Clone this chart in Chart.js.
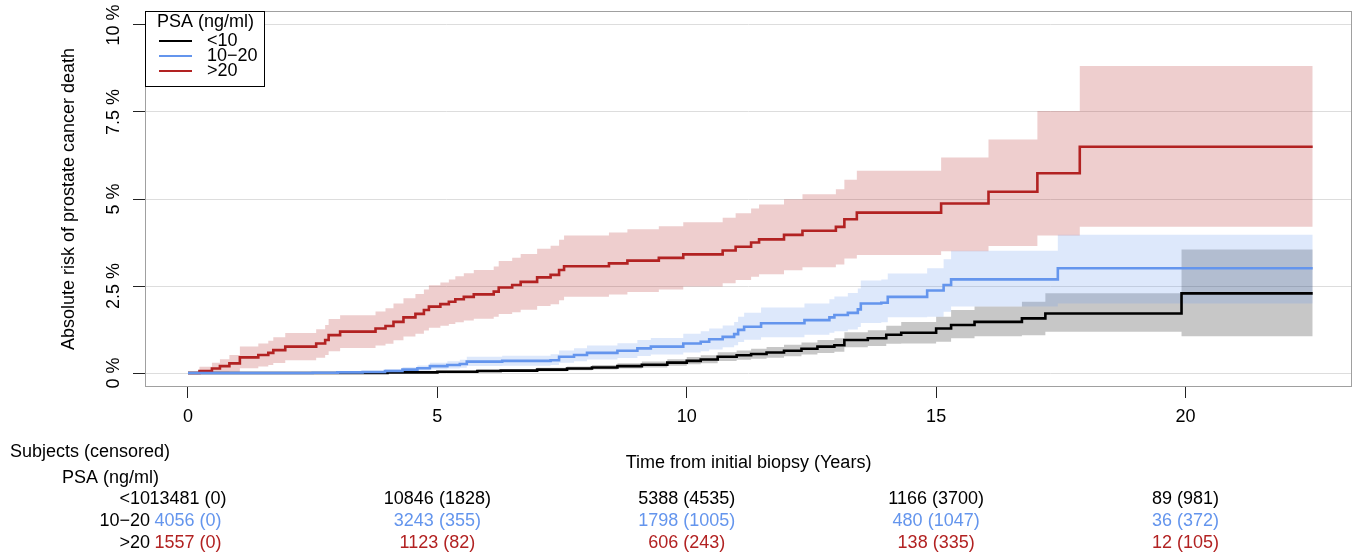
<!DOCTYPE html>
<html><head><meta charset="utf-8">
<script src="https://cdn.jsdelivr.net/npm/chart.js@4.4.1/dist/chart.umd.min.js"></script>
<style>html,body{margin:0;padding:0;background:#fff;}canvas{display:block;}</style>
</head><body>
<canvas id="c" width="1362" height="560"></canvas>
<script>
// ---------- data ----------
const groupLabels = ['<10', '10\u221220', '>20'];
const xTicks = [0, 5, 10, 15, 20];
const yTicks = [0, 2.5, 5, 7.5, 10];
const yTickLabels = ['0 %', '2.5 %', '5 %', '7.5 %', '10 %'];

// PSA < 10
const t_lt10  = [0, 3.0, 4.0, 5.0, 5.8, 6.27, 7.0, 7.6, 8.1, 8.61, 9.1, 9.61, 10.0, 10.28, 10.62, 11.0, 11.29, 11.6, 11.95, 12.3, 12.62, 12.96, 13.16, 13.63, 14.0, 14.3, 15.0, 15.3, 15.77, 16.72, 17.19, 19.92, 22.55];
const v_lt10  = [0, 0.005, 0.02, 0.04, 0.06, 0.07, 0.1, 0.13, 0.16, 0.2, 0.24, 0.3, 0.35, 0.39, 0.47, 0.51, 0.55, 0.59, 0.64, 0.7, 0.76, 0.8, 0.95, 1.0, 1.1, 1.16, 1.28, 1.38, 1.47, 1.57, 1.71, 2.29, 2.29];
const up_lt10 = [0, 0.015, 0.04, 0.07, 0.1, 0.11, 0.15, 0.19, 0.23, 0.28, 0.33, 0.4, 0.46, 0.51, 0.6, 0.65, 0.7, 0.75, 0.81, 0.88, 0.95, 1.0, 1.17, 1.23, 1.36, 1.47, 1.62, 1.81, 1.91, 2.05, 2.29, 3.55, 3.55];
const lo_lt10 = [0, 0, 0.005, 0.015, 0.025, 0.035, 0.055, 0.08, 0.1, 0.13, 0.16, 0.21, 0.25, 0.28, 0.35, 0.38, 0.41, 0.44, 0.48, 0.53, 0.58, 0.61, 0.74, 0.78, 0.84, 0.85, 0.9, 1.0, 1.06, 1.09, 1.19, 1.06, 1.06];

// PSA 10-20
const t_1020  = [0, 2.5, 3.0, 3.5, 3.95, 4.3, 4.6, 4.85, 5.2, 5.45, 5.59, 6.3, 7.27, 7.44, 7.74, 8.0, 8.61, 9.01, 9.28, 9.93, 10.28, 10.45, 10.72, 10.95, 11.03, 11.15, 11.49, 12.36, 12.86, 12.96, 13.23, 13.43, 13.49, 13.9, 14.03, 14.82, 15.15, 15.3, 17.44, 22.55];
const v_1020  = [0, 0.01, 0.02, 0.03, 0.06, 0.1, 0.14, 0.2, 0.23, 0.26, 0.33, 0.35, 0.37, 0.47, 0.52, 0.58, 0.64, 0.71, 0.76, 0.85, 0.9, 0.97, 1.04, 1.12, 1.24, 1.33, 1.43, 1.52, 1.6, 1.67, 1.73, 1.83, 2.0, 2.02, 2.19, 2.37, 2.53, 2.69, 3.01, 3.01];
const up_1020 = [0, 0.03, 0.05, 0.07, 0.12, 0.17, 0.22, 0.3, 0.34, 0.38, 0.47, 0.5, 0.54, 0.65, 0.71, 0.79, 0.86, 0.95, 1.01, 1.13, 1.2, 1.28, 1.37, 1.47, 1.62, 1.73, 1.88, 2.0, 2.12, 2.2, 2.3, 2.43, 2.66, 2.69, 2.86, 3.01, 3.27, 3.51, 3.97, 3.97];
const lo_1020 = [0, 0, 0, 0, 0.01, 0.04, 0.07, 0.11, 0.13, 0.15, 0.2, 0.21, 0.23, 0.3, 0.34, 0.39, 0.43, 0.49, 0.53, 0.59, 0.63, 0.68, 0.74, 0.8, 0.89, 0.96, 1.03, 1.1, 1.16, 1.2, 1.25, 1.32, 1.44, 1.46, 1.6, 1.62, 1.76, 1.91, 2.0, 2.0];

// PSA > 20
const t_gt20  = [0, 0.23, 0.48, 0.64, 0.83, 1.04, 1.41, 1.61, 1.71, 1.95, 2.57, 2.75, 2.82, 3.05, 3.76, 3.96, 4.12, 4.32, 4.56, 4.73, 4.83, 5.06, 5.23, 5.36, 5.53, 5.73, 6.13, 6.23, 6.5, 6.67, 7.0, 7.27, 7.44, 7.54, 8.44, 8.81, 9.44, 9.93, 10.72, 10.98, 11.29, 11.45, 11.95, 12.32, 12.99, 13.16, 13.41, 15.1, 16.05, 17.03, 17.88, 22.55];
const v_gt20  = [0, 0.06, 0.13, 0.2, 0.28, 0.45, 0.52, 0.58, 0.66, 0.76, 0.85, 0.95, 1.09, 1.19, 1.28, 1.35, 1.47, 1.6, 1.7, 1.81, 1.91, 1.98, 2.05, 2.12, 2.19, 2.26, 2.34, 2.46, 2.53, 2.62, 2.75, 2.82, 2.96, 3.07, 3.15, 3.23, 3.31, 3.41, 3.52, 3.63, 3.75, 3.84, 3.97, 4.09, 4.2, 4.42, 4.61, 4.87, 5.21, 5.74, 6.5, 6.5];
const up_gt20 = [0, 0.18, 0.3, 0.4, 0.52, 0.76, 0.85, 0.93, 1.03, 1.15, 1.26, 1.38, 1.55, 1.66, 1.77, 1.86, 2.0, 2.15, 2.27, 2.4, 2.52, 2.6, 2.69, 2.78, 2.87, 2.96, 3.06, 3.22, 3.31, 3.42, 3.57, 3.66, 3.83, 3.95, 4.04, 4.13, 4.22, 4.33, 4.46, 4.59, 4.73, 4.84, 4.99, 5.14, 5.28, 5.55, 5.81, 6.19, 6.71, 7.53, 8.82, 8.82];
const lo_gt20 = [0, 0, 0, 0, 0.04, 0.14, 0.19, 0.23, 0.29, 0.37, 0.44, 0.52, 0.63, 0.72, 0.79, 0.84, 0.94, 1.05, 1.13, 1.22, 1.3, 1.36, 1.41, 1.46, 1.51, 1.56, 1.62, 1.7, 1.75, 1.82, 1.93, 1.98, 2.09, 2.19, 2.26, 2.33, 2.4, 2.49, 2.58, 2.67, 2.77, 2.84, 2.95, 3.04, 3.12, 3.29, 3.39, 3.5, 3.65, 3.95, 4.2, 4.2];

// numbers at risk (censored) at xTicks
const atRisk_lt10   = [13481, 10846, 5388, 1166, 89];
const censor_lt10   = [0, 1828, 4535, 3700, 981];
const atRisk_1020   = [4056, 3243, 1798, 480, 36];
const censor_1020   = [0, 355, 1005, 1047, 372];
const atRisk_gt20   = [1557, 1123, 606, 138, 12];
const censor_gt20   = [0, 82, 243, 335, 105];

// ---------- styling ----------
const FONT = "'Liberation Sans', Arial, Helvetica, sans-serif";
const BLACK = '#000000', BLUE = '#6495ED', RED = '#B22222';
const lineColors = [BLACK, BLUE, RED];

function pts(ts, vs) { return ts.map((t, i) => ({ x: t, y: vs[i] })); }
function lineDs(label, ts, vs, color, order) {
  return { label, data: pts(ts, vs), borderColor: color, borderWidth: 2.6, stepped: 'before',
           fill: false, pointRadius: 0, order };
}
function bandDs(label, ts, vs, bg, order, fill) {
  return { label, data: pts(ts, vs), borderColor: 'transparent', borderWidth: 0, backgroundColor: bg,
           stepped: 'before', fill: fill, pointRadius: 0, order };
}

const datasets = [
  lineDs(groupLabels[1], t_1020, v_1020, BLUE, 1),
  lineDs(groupLabels[2], t_gt20, v_gt20, RED, 2),
  lineDs(groupLabels[0], t_lt10, v_lt10, BLACK, 3),
  bandDs('>20 upper', t_gt20, up_gt20, 'rgba(178,34,34,0.22)', 10, '+1'),
  bandDs('>20 lower', t_gt20, lo_gt20, 'transparent', 10, false),
  bandDs('10-20 upper', t_1020, up_1020, 'rgba(100,149,237,0.22)', 11, '+1'),
  bandDs('10-20 lower', t_1020, lo_1020, 'transparent', 11, false),
  bandDs('<10 upper', t_lt10, up_lt10, 'rgba(0,0,0,0.22)', 12, '+1'),
  bandDs('<10 lower', t_lt10, lo_lt10, 'transparent', 12, false)
];

const decor = {
  id: 'decor',
  afterDraw(chart) {
    const ctx = chart.ctx, a = chart.chartArea, xs = chart.scales.x, ys = chart.scales.y;
    ctx.save();
    // plot box
    ctx.strokeStyle = '#a0a0a0'; ctx.lineWidth = 1;
    ctx.strokeRect(a.left + 0.5, a.top + 0.5, a.right - a.left - 1, a.bottom - a.top - 1);
    // y tick labels (rotated as in the original)
    ctx.fillStyle = '#000'; ctx.font = '18px ' + FONT;
    ctx.textAlign = 'center'; ctx.textBaseline = 'middle';
    yTicks.forEach((v, i) => {
      ctx.save();
      ctx.translate(114, ys.getPixelForValue(v));
      ctx.rotate(-Math.PI / 2);
      ctx.fillText(yTickLabels[i], 0, 0);
      ctx.restore();
    });
    // legend
    const lx = a.left, ly = a.top, lw = 119, lh = 75;
    ctx.fillStyle = '#fff'; ctx.fillRect(lx, ly, lw, lh);
    ctx.strokeStyle = '#000'; ctx.lineWidth = 1;
    ctx.strokeRect(lx + 0.5, ly + 0.5, lw, lh);
    ctx.fillStyle = '#000'; ctx.textAlign = 'left';
    ctx.fillText('PSA (ng/ml)', lx + 12, ly + 11);
    groupLabels.forEach((g, i) => {
      const yy = ly + 30 + i * 15;
      ctx.strokeStyle = lineColors[i]; ctx.lineWidth = 2;
      ctx.beginPath(); ctx.moveTo(lx + 14, yy); ctx.lineTo(lx + 47, yy); ctx.stroke();
      ctx.fillStyle = '#000';
      ctx.fillText(g, lx + 62, yy);
    });
    // risk table
    ctx.fillStyle = '#000'; ctx.textAlign = 'left';
    ctx.fillText('Subjects (censored)', 10, 452);
    ctx.fillText('PSA (ng/ml)', 62, 478);
    const rows = [[atRisk_lt10, censor_lt10], [atRisk_1020, censor_1020], [atRisk_gt20, censor_gt20]];
    rows.forEach((r, i) => {
      const yy = 499 + i * 22;
      ctx.fillStyle = '#000'; ctx.textAlign = 'right';
      ctx.fillText(groupLabels[i], 150, yy);
      ctx.fillStyle = lineColors[i]; ctx.textAlign = 'center';
      xTicks.forEach((t, j) => {
        ctx.fillText(r[0][j] + ' (' + r[1][j] + ')', xs.getPixelForValue(t), yy);
      });
    });
    ctx.restore();
  }
};

new Chart(document.getElementById('c'), {
  type: 'line',
  data: { datasets },
  options: {
    responsive: false, animation: false, devicePixelRatio: 1,
    layout: { padding: { top: 11, right: 10, left: 0, bottom: 0 } },
    plugins: { legend: { display: false }, tooltip: { enabled: false } },
    elements: { point: { radius: 0 }, line: { tension: 0 } },
    scales: {
      x: {
        type: 'linear', position: 'bottom', min: -0.862, max: 23.338,
        afterBuildTicks: s => { s.ticks = xTicks.map(v => ({ value: v })); },
        afterFit: s => { s.height = 173; },
        grid: { drawOnChartArea: false, drawTicks: true, tickLength: 11, tickColor: '#222', tickWidth: 1 },
        border: { display: false },
        ticks: { color: '#000', font: { family: FONT, size: 18 }, padding: 8, maxRotation: 0, minRotation: 0,
                 autoSkip: false, callback: v => String(v) },
        title: { display: true, text: 'Time from initial biopsy (Years)', color: '#000',
                 font: { family: FONT, size: 18 }, padding: { top: 0, bottom: 86 } }
      },
      y: {
        type: 'linear', position: 'left', min: -0.4, max: 10.4,
        afterBuildTicks: s => { s.ticks = yTicks.map(v => ({ value: v })); },
        afterFit: s => { s.width = 145; },
        grid: { color: '#dddddd', tickColor: '#222', tickLength: 12, drawTicks: true, lineWidth: 1 },
        border: { display: false },
        ticks: { display: false },
        title: { display: true, text: 'Absolute risk of prostate cancer death', color: '#000',
                 font: { family: FONT, size: 18 }, padding: { top: 58, bottom: 0 } }
      }
    }
  },
  plugins: [decor]
});
</script>
</body></html>
